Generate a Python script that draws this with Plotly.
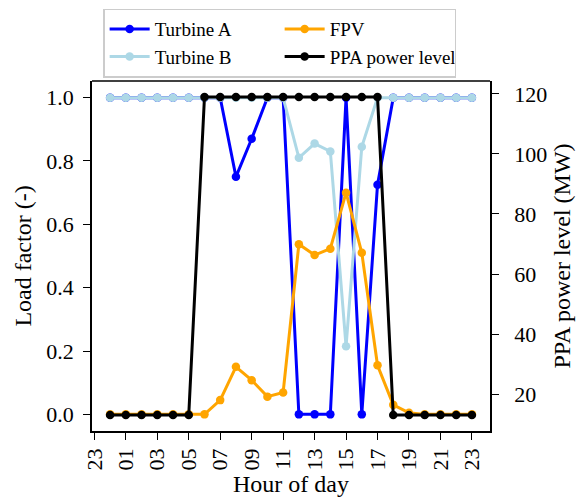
import plotly.graph_objects as go

hours = list(range(24))
tick_vals = [-1, 1, 3, 5, 7, 9, 11, 13, 15, 17, 19, 21, 23]
tick_text = ["23", "01", "03", "05", "07", "09", "11", "13", "15", "17", "19", "21", "23"]

turbine_a = [1, 1, 1, 1, 1, 1, 1, 1, 0.75, 0.87, 1, 1, 0, 0, 0, 1, 0, 0.725, 1, 1, 1, 1, 1, 1]
turbine_b = [1, 1, 1, 1, 1, 1, 1, 1, 1, 1, 1, 1, 0.81, 0.855, 0.83, 0.215, 0.845, 1, 1, 1, 1, 1, 1, 1]
fpv = [0, 0, 0, 0, 0, 0, 0, 0.045, 0.15, 0.108, 0.056, 0.069, 0.537, 0.503, 0.523, 0.70,
       0.51, 0.155, 0.03, 0.005, 0, 0, 0, 0]
ppa = [13, 13, 13, 13, 13, 13, 119, 119, 119, 119, 119, 119, 119, 119, 119, 119, 119, 119,
       13, 13, 13, 13, 13, 13]

FONT = "Liberation Serif, Times New Roman, serif"
LW = 3
MS = 8.5
TICK = 22
TITLE = 24

fig = go.Figure()
fig.add_trace(go.Scatter(x=hours, y=turbine_a, name="Turbine A", mode="lines+markers",
                         line=dict(color="#0000ff", width=LW), marker=dict(size=MS),
                         legendrank=1))
fig.add_trace(go.Scatter(x=hours, y=turbine_b, name="Turbine B", mode="lines+markers",
                         line=dict(color="#add8e6", width=LW), marker=dict(size=MS),
                         legendrank=3))
fig.add_trace(go.Scatter(x=hours, y=fpv, name="FPV", mode="lines+markers",
                         line=dict(color="#ffa500", width=LW), marker=dict(size=MS),
                         legendrank=2))
fig.add_trace(go.Scatter(x=hours, y=ppa, name="PPA power level", mode="lines+markers",
                         line=dict(color="#000000", width=LW), marker=dict(size=MS),
                         yaxis="y2", legendrank=4))

axis_common = dict(showline=True, linecolor="black", linewidth=1.5, mirror=False,
                   ticks="outside", ticklen=7, tickwidth=1.3, tickcolor="black",
                   showgrid=False, zeroline=False, automargin=False,
                   tickfont=dict(family=FONT, size=TICK, color="black"))

fig.update_layout(
    width=577, height=503,
    margin=dict(l=92, r=87, t=81, b=72, autoexpand=False),
    plot_bgcolor="white", paper_bgcolor="white",
    font=dict(family=FONT, size=TICK, color="black"),
    showlegend=True,
    legend=dict(orientation="h", x=0.028, y=1.207, xanchor="left", yanchor="top",
                bordercolor="#cccccc", borderwidth=1.5, bgcolor="white",
                entrywidth=120, font=dict(family=FONT, size=19),
                tracegroupgap=0, itemwidth=40),
    xaxis=dict(range=[-1.15, 24.15], tickvals=tick_vals, ticktext=tick_text,
               tickangle=-90, title=dict(text="Hour of day", font=dict(family=FONT, size=TITLE), standoff=2),
               **axis_common),
    yaxis=dict(range=[-0.0525, 1.0525], tickvals=[0, 0.2, 0.4, 0.6, 0.8, 1.0],
               ticktext=["0.0", "0.2", "0.4", "0.6", "0.8", "1.0"], ticklabelstandoff=5,
               title=dict(text="Load factor (-)", font=dict(family=FONT, size=TITLE), standoff=8),
               **axis_common),
    yaxis2=dict(range=[7.7, 124.3], tickvals=[20, 40, 60, 80, 100, 120],
                overlaying="y", side="right", ticklabelstandoff=11,
                title=dict(text="PPA power level (MW)", font=dict(family=FONT, size=TITLE), standoff=7),
                **axis_common),
)
fig.add_shape(type="line", xref="paper", yref="paper", x0=0, x1=1, y0=1, y1=1,
              line=dict(color="black", width=1.5))

fig.write_html("out.html")
